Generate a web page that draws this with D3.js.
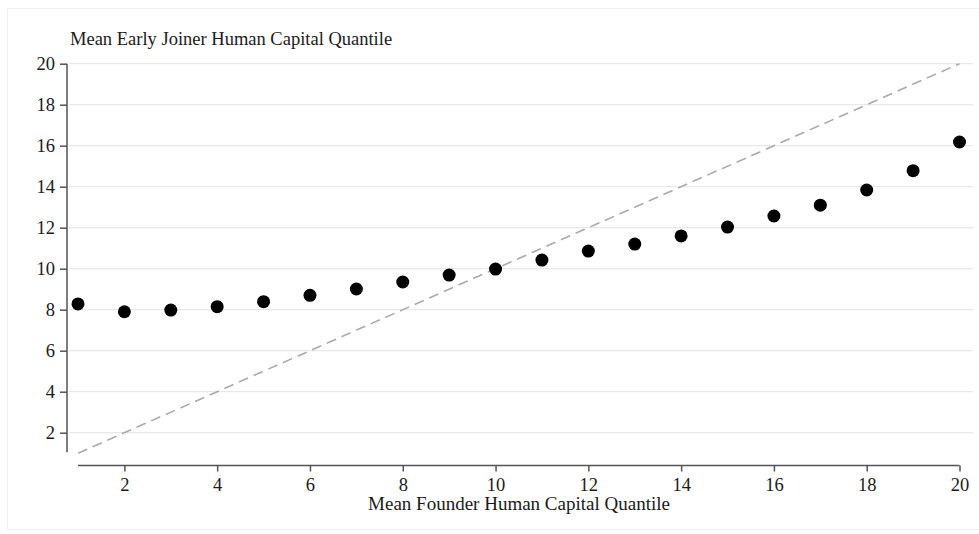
<!DOCTYPE html>
<html>
<head>
<meta charset="utf-8">
<script src="https://cdn.jsdelivr.net/npm/d3@7"></script>
<style>
  body { margin: 0; background: #fff; }
  svg { display: block; }
  text { font-family: "Liberation Serif", "Times New Roman", serif; fill: #1a1a1a; }
</style>
</head>
<body>
<svg id="chart" width="979" height="534"></svg>
<script>
const xValues = [1,2,3,4,5,6,7,8,9,10,11,12,13,14,15,16,17,18,19,20];
const yValues = [8.28,7.90,7.98,8.15,8.39,8.70,9.01,9.35,9.69,9.98,10.42,10.86,11.20,11.60,12.03,12.57,13.10,13.84,14.78,16.18];
const xTicks = [2,4,6,8,10,12,14,16,18,20];
const yTicks = [2,4,6,8,10,12,14,16,18,20];
const diagonal = [[1,1],[20,20]];
const yTitle = "Mean Early Joiner Human Capital Quantile";
const xTitle = "Mean Founder Human Capital Quantile";

const svg = d3.select("#chart");
const x = d3.scaleLinear().domain([1, 20]).range([78, 959.5]);
const y = d3.scaleLinear().domain([1, 20]).range([453.2, 63.7]);
const axisX = 67, axisY = 465.5;

// faint outer frame
svg.append("rect").attr("x", 7.5).attr("y", 8.5).attr("width", 980).attr("height", 521)
  .attr("fill", "none").attr("stroke", "#f0f0f0");

// gridlines
svg.append("g").selectAll("line").data(yTicks).join("line")
  .attr("x1", 69).attr("x2", 973)
  .attr("y1", d => y(d)).attr("y2", d => y(d))
  .attr("stroke", "#e8e8e8").attr("stroke-width", 1.2);

// diagonal
svg.append("path")
  .attr("d", d3.line().x(d => x(d[0])).y(d => y(d[1]))(diagonal))
  .attr("fill", "none").attr("stroke", "#aaaaaa").attr("stroke-width", 1.6)
  .attr("stroke-dasharray", "10,6");

// y axis
const yAxis = svg.append("g").attr("transform", `translate(${axisX},0)`)
  .call(d3.axisLeft(y).tickValues(yTicks).tickSize(7).tickPadding(5).tickFormat(d3.format("d")));
yAxis.select(".domain").attr("d", `M0,${y(20)}V${y(1) - 1}`);
yAxis.selectAll("path, line").attr("stroke", "#555").attr("stroke-width", 1.5);
yAxis.selectAll("text").attr("font-size", 18.5).attr("fill", "#1a1a1a")
  .attr("font-family", "Liberation Serif, serif");

// x axis
const xAxis = svg.append("g").attr("transform", `translate(0,${axisY})`)
  .call(d3.axisBottom(x).tickValues(xTicks).tickSize(6).tickPadding(6).tickFormat(d3.format("d")));
xAxis.select(".domain").attr("d", `M${x(1)},0H${x(20)}`);
xAxis.selectAll("path, line").attr("stroke", "#555").attr("stroke-width", 1.5);
xAxis.selectAll("text").attr("font-size", 18.5).attr("fill", "#1a1a1a")
  .attr("font-family", "Liberation Serif, serif");

// points
svg.append("g").selectAll("circle").data(xValues).join("circle")
  .attr("cx", (d) => x(d)).attr("cy", (d, i) => y(yValues[i]))
  .attr("r", 6.5).attr("fill", "#000");

// titles
svg.append("text").attr("x", 70).attr("y", 45).attr("font-size", 18.5).text(yTitle);
svg.append("text").attr("x", 519).attr("y", 510).attr("text-anchor", "middle")
  .attr("font-size", 19).text(xTitle);
</script>
</body>
</html>
